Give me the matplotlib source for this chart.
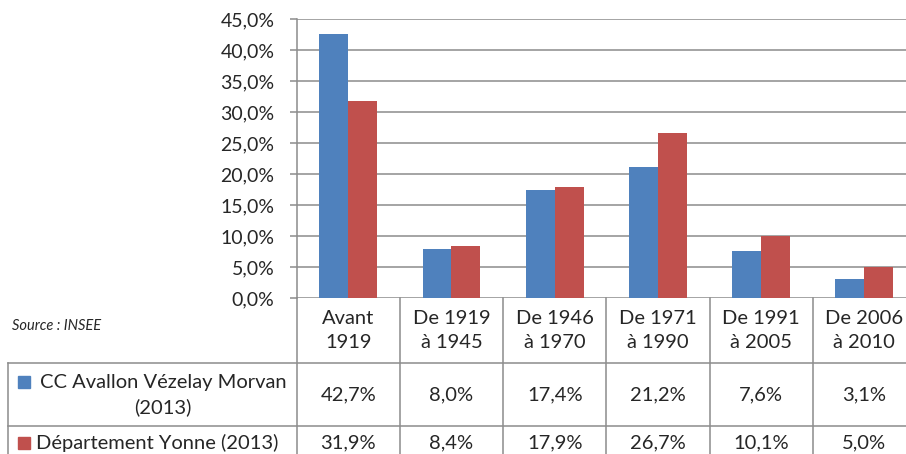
import matplotlib
matplotlib.use("Agg")
import matplotlib.pyplot as plt
from matplotlib import transforms
from matplotlib.patches import Rectangle

# Period of construction of main residences
categories = ["Avant\n1919", "De 1919\nà 1945", "De 1946\nà 1970",
              "De 1971\nà 1990", "De 1991\nà 2005", "De 2006\nà 2010"]
series_names = ["CC Avallon Vézelay Morvan\n(2013)", "Département Yonne (2013)"]
cc_avallon = [42.7, 8.0, 17.4, 21.2, 7.6, 3.1]
yonne = [31.9, 8.4, 17.9, 26.7, 10.1, 5.0]
y_ticks = [0, 5, 10, 15, 20, 25, 30, 35, 40, 45]
source_note = "Source : INSEE"

BLUE = "#4F81BD"
RED = "#C0504D"
GRID = "#8C8C8C"
TEXT = "#262626"
FS = 14.5
LS = 1.5

plt.rcParams["font.family"] = ["Lato", "DejaVu Sans"]

W, H = 906, 454
fig = plt.figure(figsize=(W / 100, H / 100), dpi=100)

# pixel geometry of the plot area
x0, y_top, y_zero = 296.7, 19.3, 298.3
col_w = 103.2
n = len(categories)

ax = fig.add_axes([x0 / W, 1 - y_zero / H, n * col_w / W, (y_zero - y_top) / H])
ax.set_xlim(0, n)
ax.set_ylim(0, 45)

xs = [i + 0.5 for i in range(n)]
bw = 0.281
ax.bar([x - 0.14 for x in xs], cc_avallon, width=bw, color=BLUE, zorder=3)
ax.bar([x + 0.14 for x in xs], yonne, width=bw, color=RED, zorder=3)

ax.set_yticks(y_ticks)
ax.set_yticklabels([f"{v:.1f}%".replace(".", ",") for v in y_ticks],
                   fontsize=14, color=TEXT)
ax.set_xticks([])
ax.grid(axis="y", color=GRID, lw=1.1, zorder=0)
for s in ("top", "right", "bottom"):
    ax.spines[s].set_visible(False)
ax.spines["left"].set_color(GRID)
ax.spines["left"].set_linewidth(1.1)
ax.tick_params(axis="y", length=5, width=1.1, color=GRID, pad=11)

# data table beneath the plot, in pixel coordinates
tab = fig.add_axes([0, 0, 1, 1], zorder=5)
tab.set_xlim(0, W)
tab.set_ylim(H, 0)
tab.axis("off")
tab.patch.set_alpha(0)

blend = transforms.blended_transform_factory(ax.transData, tab.transData)

row1, row2, left = 362.5, 425.5, 8
lkw = dict(color=GRID, lw=1.1, clip_on=False)
tab.plot([left, W + 20], [row1, row1], **lkw)
tab.plot([left, W + 20], [row2, row2], **lkw)
tab.plot([left, left], [row1, H + 5], **lkw)
for k in range(n + 1):
    tab.plot([k, k], [y_zero, H + 5], transform=blend, **lkw)

for x, lab in zip(xs, categories):
    tab.text(x, 330, lab, transform=blend, ha="center", va="center",
             fontsize=FS, color=TEXT, linespacing=LS)
for x, v in zip(xs, cc_avallon):
    tab.text(x, 395, f"{v:.1f}%".replace(".", ","), transform=blend,
             ha="center", va="center", fontsize=FS, color=TEXT)
for x, v in zip(xs, yonne):
    tab.text(x, 443, f"{v:.1f}%".replace(".", ","), transform=blend,
             ha="center", va="center", fontsize=FS, color=TEXT)

# legend keys in the row headers
tab.add_patch(Rectangle((18, 376), 12, 12, color=BLUE))
tab.text(163, 395, series_names[0], ha="center", va="center",
         fontsize=FS, color=TEXT, linespacing=LS)
tab.add_patch(Rectangle((18, 437), 12, 12, color=RED))
tab.text(36, 443, series_names[1], ha="left", va="center",
         fontsize=FS, color=TEXT)

tab.text(12, 326, source_note, ha="left", va="center", fontsize=10.5,
         style="italic", color=TEXT)

fig.savefig("out.png", dpi=100)
